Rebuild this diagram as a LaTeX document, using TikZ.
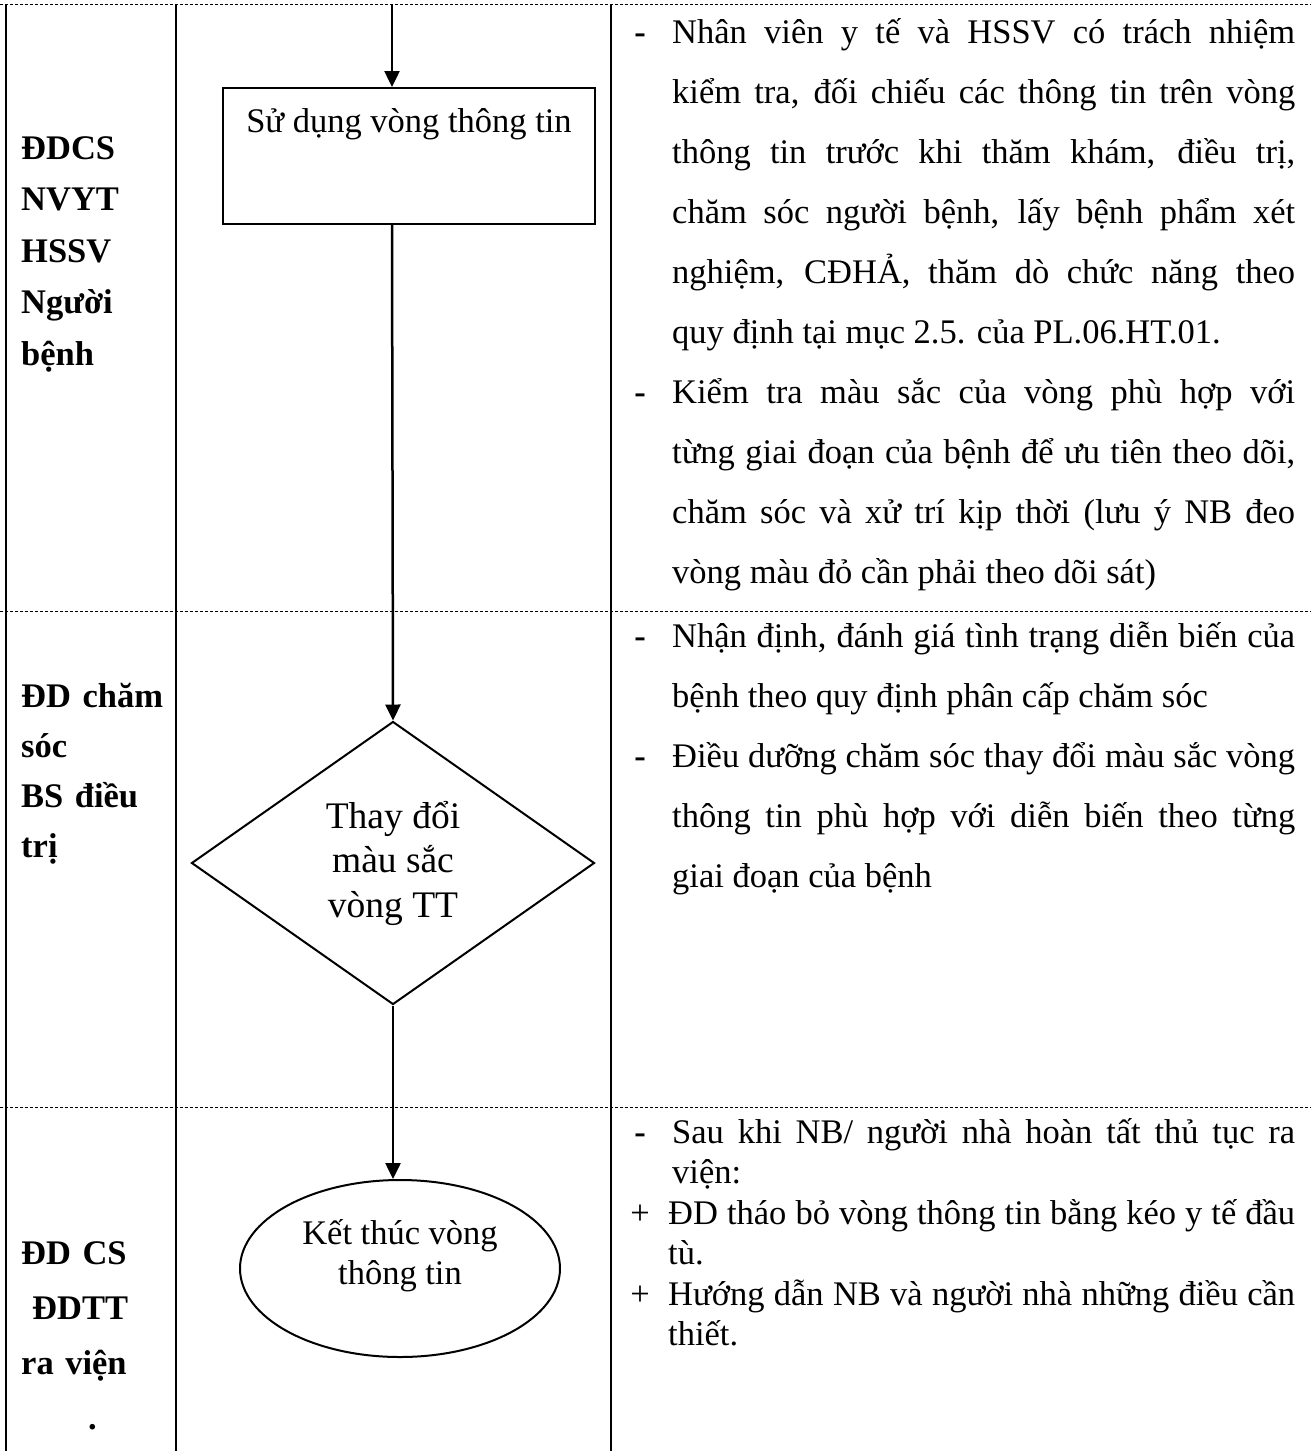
\documentclass[tikz,border=0pt]{standalone}
\usepackage{fontspec}
\setmainfont{Liberation Serif}
\usetikzlibrary{arrows.meta,shapes.geometric}
\newcommand\bodyfont[1]{\fontsize{34.5}{#1}\selectfont\lineskiplimit=-99pt\tolerance=9999\hyphenpenalty=10000\relax}
\tikzset{
  lane/.style={line width=2.5pt},
  rowsep/.style={line width=1pt,dash pattern=on 3pt off 2pt},
  flow/.style={line width=2.5pt,-{Triangle[length=16pt,width=15pt]}},
  actor/.style={anchor=base west,inner sep=0,text width=150pt,align=left,font=\bfseries\bodyfont{#1}},
  note/.style={anchor=base west,inner sep=0,text width=#1,align=justify},
  bul/.style={anchor=base,inner sep=0}
}
\begin{document}
\begin{tikzpicture}[x=1pt,y=-1pt,font=\bodyfont{60}]
  \useasboundingbox (0,0) rectangle (1311,1451);
  \foreach \y in {4,611,1107} {\draw[rowsep] (0,\y) -- (1311,\y);}
  \foreach \x in {6,176,611} {\draw[lane] (\x,4) -- (\x,1451);}
  % actors
  \node[actor=51.5] (a1) at (21,159) {ĐDCS\\NVYT\\HSSV\\Người\\bệnh};
  \node[actor=50] (a2) at (21,707) {ĐD chăm\\sóc\\BS điều\\trị};
  \node[actor=55] (a3) at (21,1264) {ĐD CS\\\hspace*{11pt}ĐDTT\\ra viện\\\hspace*{67pt}.};
  % flow
  \coordinate (c0) at (392,4);
  \node[draw,line width=2pt,minimum width=372pt,inner sep=0,text height=44pt,text depth=92pt,anchor=north] (use) at (409,87) {Sử dụng vòng thông tin};
  \node[draw,line width=2pt,diamond,minimum width=403pt,minimum height=283pt,inner sep=0,align=center,font=\fontsize{37.5}{44.5}\selectfont] (change) at (393,863) {Thay đổi\\màu sắc\\vòng TT};
  \node[draw,line width=2pt,ellipse,minimum width=320pt,minimum height=177pt,inner sep=0,align=center,text depth=34pt,font=\bodyfont{40}] (finish) at (400,1268.5) {Kết thúc vòng\\thông tin};
  \draw[flow] (c0) -- (c0 |- use.north);
  \draw[flow] (c0 |- use.south) -- (change.north);
  \draw[flow] (change.south) -- (change.south |- finish.north);
  % notes
  \foreach \y/\b [count=\i] in {43/\textbf{-},403/\textbf{-},647/\textbf{-},767/\textbf{-},1143/\textbf{-},1224/+,1305/+} {\node[bul] (b\i) at (640,\y) {\b};}
  \node[note=623pt] (n1) at (672,43) {Nhân viên y tế và HSSV có trách nhiệm\linebreak kiểm tra, đối chiếu các thông tin trên vòng\linebreak thông tin trước khi thăm khám, điều trị,\linebreak chăm sóc người bệnh, lấy bệnh phẩm xét\linebreak nghiệm, CĐHẢ, thăm dò chức năng theo\linebreak quy định tại mục 2.5. của PL.06.HT.01.};
  \node[note=623pt] (n2) at (672,403) {Kiểm tra màu sắc của vòng phù hợp với\linebreak từng giai đoạn của bệnh để ưu tiên theo dõi,\linebreak chăm sóc và xử trí kịp thời (lưu ý NB đeo\linebreak vòng màu đỏ cần phải theo dõi sát)};
  \node[note=623pt] (n3) at (672,647) {Nhận định, đánh giá tình trạng diễn biến của\linebreak bệnh theo quy định phân cấp chăm sóc};
  \node[note=623pt] (n4) at (672,767) {Điều dưỡng chăm sóc thay đổi màu sắc vòng\linebreak thông tin phù hợp với diễn biến theo từng\linebreak giai đoạn của bệnh};
  \node[note=623pt,font=\bodyfont{40.5}] (n5) at (672,1143) {Sau khi NB/ người nhà hoàn tất thủ tục ra\linebreak viện:};
  \node[note=627pt,font=\bodyfont{40.5}] (n6) at (668,1224) {ĐD tháo bỏ vòng thông tin bằng kéo y tế đầu\linebreak tù.};
  \node[note=627pt,font=\bodyfont{40.5}] (n7) at (668,1305) {Hướng dẫn NB và người nhà những điều cần\linebreak thiết.};
\end{tikzpicture}
\end{document}
